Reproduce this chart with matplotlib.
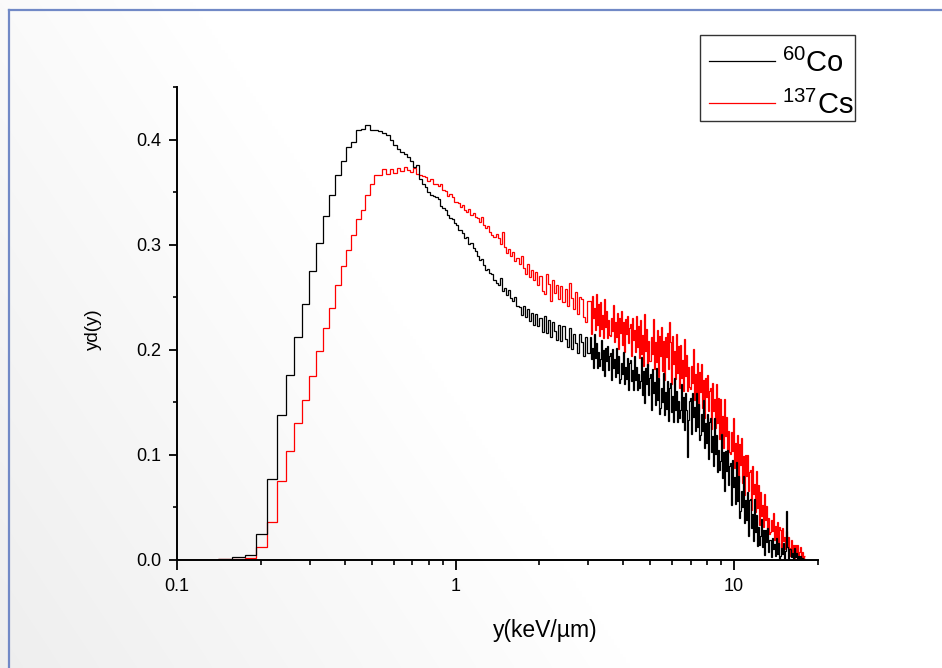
import numpy as np
import matplotlib
matplotlib.use('Agg')
import matplotlib.pyplot as plt
from matplotlib.lines import Line2D
from matplotlib.patches import Rectangle
from matplotlib.ticker import FixedLocator, FixedFormatter, NullFormatter, MultipleLocator, FormatStrFormatter

plt.rcParams['font.family'] = ['Liberation Sans', 'DejaVu Sans']
plt.rcParams['mathtext.fontset'] = 'custom'
plt.rcParams['mathtext.rm'] = 'Liberation Sans'
plt.rcParams['mathtext.it'] = 'Liberation Sans:italic'
plt.rcParams['mathtext.bf'] = 'Liberation Sans:bold'

# ---------------- data ----------------
series_labels = [r'$^{60}$Co', r'$^{137}$Cs']
series_colors = ['black', 'red']
x_label = 'y(keV/\u00b5m)'
y_label = 'yd(y)'
x_major = [0.1, 1, 10]
x_major_labels = ['0.1', '1', '10']
x_minor = [0.2, 0.3, 0.4, 0.5, 0.6, 0.7, 0.8, 0.9, 2, 3, 4, 5, 6, 7, 8, 9, 20]
y_major = [0.0, 0.1, 0.2, 0.3, 0.4]

# bin grid: linear bins at low y, log bins above 1 keV/um, finer log bins above ~3 keV/um
x_first = 0.1
low_bin_start = 0.14
low_bin_width = 0.0176
n_low = 49
mid_dlog = 0.0075
n_mid = 64
tail_dlog = 0.0036
n_tail = 215

co60_low = [0.001, 0.003, 0.005, 0.025, 0.077, 0.138, 0.176, 0.212, 0.244, 0.275,
            0.302, 0.327, 0.347, 0.366, 0.380, 0.393, 0.398, 0.409, 0.410, 0.414,
            0.409, 0.409, 0.408, 0.406, 0.404, 0.400, 0.395, 0.391, 0.388, 0.386,
            0.383, 0.380, 0.374, 0.376, 0.362, 0.358, 0.355, 0.350, 0.347, 0.346,
            0.345, 0.343, 0.337, 0.335, 0.333, 0.328, 0.325, 0.324, 0.321]
co60_mid = [0.319, 0.314, 0.314, 0.311, 0.306, 0.307, 0.301, 0.302, 0.297, 0.294,
            0.289, 0.285, 0.286, 0.281, 0.276, 0.277, 0.273, 0.272, 0.266, 0.264,
            0.262, 0.268, 0.256, 0.259, 0.252, 0.257, 0.249, 0.246, 0.250, 0.242,
            0.241, 0.233, 0.242, 0.231, 0.239, 0.227, 0.235, 0.224, 0.234, 0.223,
            0.230, 0.217, 0.232, 0.216, 0.228, 0.212, 0.226, 0.218, 0.209, 0.224,
            0.208, 0.223, 0.210, 0.203, 0.221, 0.201, 0.215, 0.206, 0.197, 0.215,
            0.207, 0.194, 0.212, 0.197]
co60_tail = [0.212, 0.191, 0.202, 0.183, 0.215, 0.192, 0.206, 0.183, 0.198, 0.185,
             0.191, 0.209, 0.181, 0.200, 0.175, 0.202, 0.189, 0.204, 0.181, 0.194,
             0.197, 0.171, 0.201, 0.183, 0.191, 0.174, 0.202, 0.178, 0.194, 0.168,
             0.172, 0.187, 0.177, 0.198, 0.167, 0.184, 0.172, 0.192, 0.162, 0.187,
             0.190, 0.170, 0.181, 0.162, 0.194, 0.171, 0.184, 0.162, 0.177, 0.164,
             0.170, 0.193, 0.157, 0.180, 0.149, 0.183, 0.167, 0.186, 0.157, 0.173,
             0.177, 0.143, 0.182, 0.159, 0.169, 0.147, 0.183, 0.152, 0.173, 0.139,
             0.145, 0.164, 0.150, 0.178, 0.138, 0.160, 0.144, 0.170, 0.132, 0.164,
             0.168, 0.141, 0.156, 0.131, 0.173, 0.143, 0.161, 0.131, 0.151, 0.135,
             0.143, 0.167, 0.131, 0.155, 0.124, 0.159, 0.143, 0.098, 0.133, 0.151,
             0.154, 0.120, 0.159, 0.136, 0.146, 0.123, 0.159, 0.127, 0.148, 0.114,
             0.119, 0.139, 0.123, 0.152, 0.107, 0.130, 0.111, 0.139, 0.096, 0.131,
             0.135, 0.103, 0.118, 0.089, 0.135, 0.101, 0.119, 0.084, 0.105, 0.086,
             0.094, 0.120, 0.078, 0.103, 0.066, 0.104, 0.085, 0.105, 0.071, 0.089,
             0.092, 0.052, 0.095, 0.069, 0.079, 0.053, 0.093, 0.056, 0.080, 0.040,
             0.047, 0.066, 0.050, 0.080, 0.035, 0.057, 0.038, 0.065, 0.023, 0.057,
             0.058, 0.030, 0.044, 0.018, 0.058, 0.027, 0.043, 0.013, 0.031, 0.014,
             0.023, 0.039, 0.012, 0.029, 0.005, 0.029, 0.017, 0.030, 0.008, 0.019,
             0.019, 0.003, 0.021, 0.010, 0.015, 0.004, 0.021, 0.006, 0.016, 0.001,
             0.004, 0.011, 0.006, 0.016, 0.001, 0.009, 0.047, 0.012, 0.000, 0.010,
             0.010, 0.003, 0.007, 0.000, 0.011, 0.003, 0.007, 0.000, 0.004, 0.000,
             0.004, 0.000, 0.002, 0.000, 0.001]

cs137_low = [0.0005, 0.001, 0.002, 0.012, 0.036, 0.075, 0.104, 0.130, 0.152, 0.175,
             0.199, 0.221, 0.240, 0.262, 0.280, 0.295, 0.309, 0.324, 0.333, 0.347,
             0.358, 0.3665, 0.3665, 0.372, 0.367, 0.372, 0.368, 0.373, 0.370, 0.374,
             0.371, 0.369, 0.373, 0.367, 0.366, 0.365, 0.364, 0.361, 0.362, 0.358,
             0.358, 0.356, 0.358, 0.352, 0.351, 0.346, 0.348, 0.345, 0.341]
cs137_mid = [0.341, 0.340, 0.336, 0.338, 0.333, 0.331, 0.334, 0.328, 0.330, 0.326,
             0.325, 0.322, 0.326, 0.319, 0.316, 0.318, 0.312, 0.309, 0.307, 0.310,
             0.306, 0.301, 0.312, 0.298, 0.292, 0.296, 0.289, 0.293, 0.284, 0.287,
             0.282, 0.289, 0.278, 0.272, 0.282, 0.269, 0.276, 0.266, 0.274, 0.262,
             0.270, 0.256, 0.253, 0.272, 0.263, 0.246, 0.266, 0.254, 0.262, 0.248,
             0.261, 0.245, 0.258, 0.242, 0.264, 0.249, 0.239, 0.255, 0.234, 0.250,
             0.248, 0.231, 0.226, 0.246]
cs137_tail = [0.246, 0.215, 0.251, 0.230, 0.240, 0.219, 0.253, 0.224, 0.244, 0.213,
              0.245, 0.220, 0.233, 0.211, 0.248, 0.222, 0.237, 0.211, 0.228, 0.214,
              0.213, 0.230, 0.218, 0.243, 0.207, 0.226, 0.212, 0.235, 0.201, 0.230,
              0.216, 0.237, 0.205, 0.226, 0.198, 0.229, 0.215, 0.232, 0.206, 0.221,
              0.225, 0.194, 0.230, 0.209, 0.219, 0.198, 0.232, 0.203, 0.223, 0.192,
              0.228, 0.196, 0.214, 0.185, 0.234, 0.199, 0.220, 0.185, 0.208, 0.189,
              0.189, 0.212, 0.196, 0.229, 0.182, 0.207, 0.188, 0.219, 0.174, 0.213,
              0.194, 0.222, 0.180, 0.208, 0.171, 0.212, 0.193, 0.216, 0.182, 0.226,
              0.207, 0.167, 0.213, 0.186, 0.199, 0.172, 0.215, 0.178, 0.204, 0.164,
              0.205, 0.173, 0.190, 0.161, 0.210, 0.175, 0.195, 0.161, 0.184, 0.165,
              0.163, 0.185, 0.168, 0.201, 0.152, 0.177, 0.157, 0.187, 0.142, 0.179,
              0.160, 0.186, 0.145, 0.171, 0.135, 0.173, 0.155, 0.176, 0.142, 0.161,
              0.164, 0.125, 0.168, 0.142, 0.153, 0.126, 0.167, 0.130, 0.154, 0.115,
              0.153, 0.121, 0.137, 0.107, 0.153, 0.118, 0.136, 0.102, 0.123, 0.103,
              0.101, 0.122, 0.104, 0.135, 0.088, 0.111, 0.091, 0.119, 0.074, 0.110,
              0.090, 0.116, 0.073, 0.099, 0.062, 0.100, 0.080, 0.100, 0.066, 0.084,
              0.086, 0.048, 0.089, 0.063, 0.072, 0.046, 0.085, 0.049, 0.071, 0.033,
              0.065, 0.042, 0.052, 0.031, 0.063, 0.038, 0.051, 0.025, 0.040, 0.025,
              0.027, 0.038, 0.028, 0.045, 0.019, 0.032, 0.021, 0.036, 0.011, 0.031,
              0.029, 0.011, 0.030, 0.018, 0.022, 0.010, 0.028, 0.012, 0.022, 0.004,
              0.011, 0.019, 0.006, 0.014, 0.002, 0.014, 0.007, 0.014, 0.003, 0.008,
              0.012, 0.003, 0.008, 0.001, 0.004]

# ---------------- bin edges ----------------
low_edges = low_bin_start + low_bin_width * np.arange(n_low + 1)
mid_edges = 10 ** (np.log10(low_edges[-1]) + mid_dlog * np.arange(1, n_mid + 1))
tail_edges = 10 ** (np.log10(mid_edges[-1]) + tail_dlog * np.arange(1, n_tail + 1))
edges = np.concatenate([[x_first], low_edges, mid_edges, tail_edges])
co60 = np.array([0.0] + co60_low + co60_mid + co60_tail)
cs137 = np.array([0.0] + cs137_low + cs137_mid + cs137_tail)

# ---------------- figure ----------------
W, H = 942, 668
fig = plt.figure(figsize=(W / 100, H / 100), dpi=100)
fig.patch.set_facecolor('white')

# background gradient
bg = fig.add_axes([0, 0, 1, 1], zorder=-10)
gx, gy = np.meshgrid(np.linspace(0, 1, 300), np.linspace(1, 0, 220))
g = 0.935 + 0.065 * np.clip(gx * 1.5 + gy * 0.7, 0, 1)
bg.imshow(np.dstack([g, g, g]), aspect='auto', extent=[0, 1, 0, 1], interpolation='bilinear')
bg.set_xlim(0, 1)
bg.set_ylim(0, 1)
bg.axis('off')

# border lines
border_c = '#7189c6'
fig.add_artist(Line2D([8.5 / W, 8.5 / W], [0, 1 - 9.5 / H], transform=fig.transFigure,
                      color=border_c, lw=1.6))
fig.add_artist(Line2D([8.5 / W, 1], [1 - 9.5 / H, 1 - 9.5 / H], transform=fig.transFigure,
                      color=border_c, lw=1.6))

ax = fig.add_axes([177 / W, 1 - 560 / H, (818 - 177) / W, (560 - 87) / H])
ax.set_facecolor('none')

ax.stairs(cs137, edges, baseline=None, color=series_colors[1], lw=0.9, zorder=2)
ax.stairs(co60, edges, baseline=None, color=series_colors[0], lw=0.9, zorder=3)

ax.set_xscale('log')
ax.set_xlim(0.1, 20)
ax.set_ylim(0, 0.45)

ax.xaxis.set_major_locator(FixedLocator(x_major))
ax.xaxis.set_major_formatter(FixedFormatter(x_major_labels))
ax.xaxis.set_minor_locator(FixedLocator(x_minor))
ax.xaxis.set_minor_formatter(NullFormatter())
ax.yaxis.set_major_locator(FixedLocator(y_major))
ax.yaxis.set_major_formatter(FormatStrFormatter('%.1f'))
ax.yaxis.set_minor_locator(MultipleLocator(0.05))

for s in ['top', 'right']:
    ax.spines[s].set_visible(False)
for s in ['left', 'bottom']:
    ax.spines[s].set_linewidth(1.4)

ax.tick_params(axis='x', which='major', direction='out', length=7, width=1.3, pad=6, labelsize=13)
ax.tick_params(axis='x', which='minor', direction='out', length=3.5, width=1.2)
ax.tick_params(axis='y', which='major', direction='out', length=6, width=1.3, pad=5, labelsize=13)
ax.tick_params(axis='y', which='minor', direction='out', length=3, width=1.2)

ax.set_xlabel(x_label, fontsize=16.5)
ax.set_ylabel(y_label, fontsize=13.5)
ax.xaxis.set_label_coords((545 - 177) / 641, -(631 - 560) / 473)
ax.yaxis.set_label_coords((93 - 177) / 641, (560 - 329) / 473)
ax.xaxis.label.set_va('center')
ax.yaxis.label.set_va('center')

# legend box (drawn in figure pixel coordinates)
def fx(px):
    return px / W


def fy(py):
    return 1 - py / H


fig.add_artist(Rectangle((fx(700), fy(121)), fx(855) - fx(700), fy(35) - fy(121),
                         transform=fig.transFigure, facecolor='white',
                         edgecolor='#333333', lw=1.0, zorder=5))
for i, (lab, col) in enumerate(zip(series_labels, series_colors)):
    yl = [61, 103][i]
    fig.add_artist(Line2D([fx(709), fx(775)], [fy(yl), fy(yl)], transform=fig.transFigure,
                          color=col, lw=0.9, zorder=6))
    fig.text(fx(782), fy(yl + 11.5), lab, fontsize=21, va='baseline', ha='left', zorder=7)

fig.savefig('out.png', dpi=100)
